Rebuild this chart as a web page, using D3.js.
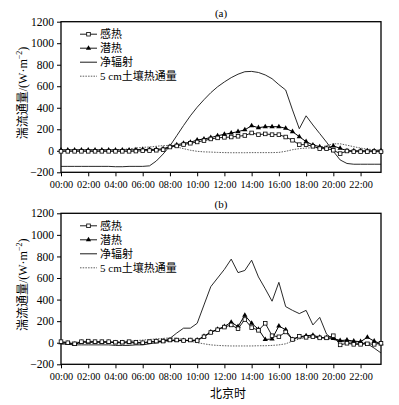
<!DOCTYPE html>
<html><head><meta charset="utf-8">
<script src="https://cdn.jsdelivr.net/npm/d3@7"></script>
<style>
html,body{margin:0;padding:0;background:#fff;}
svg{display:block;}
text{font-family:"Liberation Serif","Times New Roman","DejaVu Serif",serif;fill:#000;}
text.cjk, tspan.cjk{font-family:"Noto Sans CJK SC","Noto Sans",sans-serif;}
</style></head>
<body><svg id="c" width="399" height="405"></svg>
<script>
const hours = [0,0.5,1,1.5,2,2.5,3,3.5,4,4.5,5,5.5,6,6.5,7,7.5,8,8.5,9,9.5,10,10.5,11,11.5,12,12.5,13,13.5,14,14.5,15,15.5,16,16.5,17,17.5,18,18.5,19,19.5,20,20.5,21,21.5,22,22.5,23,23.5];
const xTickHours = [0,2,4,6,8,10,12,14,16,18,20,22];
const xTickLabels = ["00:00","02:00","04:00","06:00","08:00","10:00","12:00","14:00","16:00","18:00","20:00","22:00"];
const yTicks = [-200,0,200,400,600,800,1000,1200];
const seriesNames = ["感热","潜热","净辐射","5 cm土壤热通量"];
const panelTitles = ["(a)","(b)"];

// Panel (a)
const sensA = [-5,-5,-5,-5,-5,-5,-5,-5,-5,-5,-5,-3,0,2,5,10,35,45,58,70,82,95,110,120,125,128,135,142,166,150,157,150,150,128,98,57,57,42,20,20,5,-26,-2,-8,-8,-8,-8,-8];
const latA = [8,8,8,8,8,8,8,8,8,8,8,10,12,12,14,18,40,55,70,79,100,110,122,140,153,165,178,195,233,215,224,224,224,209,178,131,85,54,38,23,45,23,1,0,0,0,0,0];
const netA = [-145,-145,-145,-145,-145,-145,-145,-145,-148,-148,-145,-145,-145,-140,-95,-30,45,140,235,325,405,475,540,595,640,680,712,735,738,728,705,670,615,565,380,205,325,240,160,80,-5,-85,-118,-125,-125,-125,-125,-125];
const soilA = [8,8,8,8,8,8,8,8,10,12,18,25,32,35,42,48,48,35,20,5,-5,-10,-12,-15,-17,-18,-18,-18,-17,-17,-17,-17,-15,-5,10,20,25,28,30,48,65,65,52,38,25,15,10,5];

// Panel (b)
const sensB = [10,0,-10,10,15,10,10,10,5,5,10,5,0,10,15,15,25,25,20,25,20,55,95,120,145,165,130,215,140,115,180,65,55,100,30,60,50,55,45,45,65,-20,-5,-15,-15,-10,-15,-5];
const latB = [0,-5,-15,5,5,5,5,5,0,0,0,0,-5,5,10,15,20,20,20,20,25,60,100,125,150,190,150,255,180,125,30,35,155,120,30,55,65,70,50,45,40,20,25,15,10,50,15,-10];
const netB = [-10,-15,-20,-20,-20,-20,-20,-20,-25,-25,-25,-20,-20,-10,0,15,40,90,135,135,180,350,520,600,680,775,650,670,765,610,500,385,560,335,300,270,300,165,235,80,30,20,0,-5,-5,-10,-50,-95];
const soilB = [5,5,5,5,5,5,5,5,5,10,15,20,25,30,35,40,45,40,30,15,0,-10,-20,-25,-28,-30,-30,-30,-30,-28,-28,-25,-20,-10,15,35,50,55,50,40,30,20,15,10,5,0,-5,-10];

const svg = d3.select("#c");
const x = d3.scaleLinear().domain([0,23.5]).range([61,381]);
const SERIF = '"Liberation Serif","Times New Roman","DejaVu Serif",serif';

function panel(top, bottom, sens, lat, net, soil, title, showXLabel){
  const y = d3.scaleLinear().domain([-200,1200]).range([bottom, top]);
  const g = svg.append("g");
  g.append("text").attr("x",221).attr("y",top-5).attr("text-anchor","middle").attr("font-size",11).text(title);
  const ya = g.append("g").attr("transform","translate(61,0)")
    .call(d3.axisLeft(y).tickValues(yTicks).tickFormat(d3.format("d")).tickSize(4).tickSizeOuter(0).tickPadding(3));
  ya.attr("font-family",SERIF);
  ya.select(".domain").remove();
  ya.selectAll("text").style("font-family",SERIF).style("font-size","11.5px");
  ya.selectAll("line").attr("stroke","#000");
  const xa = g.append("g").attr("transform",`translate(0,${bottom})`)
    .call(d3.axisBottom(x).tickValues(xTickHours).tickFormat((d,i)=>xTickLabels[i]).tickSize(4).tickSizeOuter(0).tickPadding(4));
  xa.attr("font-family",SERIF);
  xa.select(".domain").remove();
  xa.selectAll("text").style("font-family",SERIF).style("font-size","10.3px");
  xa.selectAll("line").attr("stroke","#000");
  g.append("rect").attr("x",61).attr("y",top).attr("width",320).attr("height",bottom-top)
    .attr("fill","none").attr("stroke","#000").attr("stroke-width",1.3);
  const yl = g.append("text").attr("transform",`translate(27,${(top+bottom)/2-4}) rotate(-90)`)
    .attr("text-anchor","middle").attr("font-size",12);
  yl.append("tspan").attr("class","cjk").text("湍流通量");
  yl.append("tspan").text("/(W·m");
  yl.append("tspan").attr("font-size",8).attr("dy",-5).text("−2");
  yl.append("tspan").attr("dy",5).text(")");

  const line = d3.line().x((d,i)=>x(hours[i])).y(d=>y(d));
  g.append("path").datum(soil).attr("d",line).attr("fill","none").attr("stroke","#333").attr("stroke-width",0.8).attr("stroke-dasharray","1.5,1.2");
  g.append("path").datum(net).attr("d",line).attr("fill","none").attr("stroke","#111").attr("stroke-width",0.9);
  g.append("path").datum(lat).attr("d",line).attr("fill","none").attr("stroke","#000").attr("stroke-width",1);
  const tri = d3.symbol().type(d3.symbolTriangle).size(12);
  g.selectAll(".tri").data(lat).enter().append("path").attr("class","tri")
    .attr("transform",(d,i)=>`translate(${x(hours[i])},${y(d)})`).attr("d",tri).attr("fill","#000");
  g.append("path").datum(sens).attr("d",line).attr("fill","none").attr("stroke","#000").attr("stroke-width",0.9);
  g.selectAll(".sq").data(sens).enter().append("rect").attr("class","sq")
    .attr("x",(d,i)=>x(hours[i])-1.8).attr("y",d=>y(d)-1.8).attr("width",3.6).attr("height",3.6)
    .attr("fill","#fff").attr("stroke","#000").attr("stroke-width",0.8);

  const lx0 = 80, lx1 = 97, tx = 100;
  const rows = [top+12.5, top+26.5, top+40.5, top+54.5];
  rows.forEach((ry,i)=>{
    const ln = g.append("line").attr("x1",lx0).attr("x2",lx1).attr("y1",ry).attr("y2",ry).attr("stroke","#000").attr("stroke-width",0.9);
    if(i===0){
      g.append("rect").attr("x",88.5-1.8).attr("y",ry-1.8).attr("width",3.6).attr("height",3.6).attr("fill","#fff").attr("stroke","#000").attr("stroke-width",0.8);}
    if(i===1){ g.append("path").attr("transform",`translate(88.5,${ry})`).attr("d",tri).attr("fill","#000");}
    if(i===3){ ln.attr("stroke-width",0.8).attr("stroke","#333").attr("stroke-dasharray","1.5,1.2");}
    const t = g.append("text").attr("x",tx).attr("y",ry+4).attr("font-size",11);
    if(i===3){
      t.append("tspan").text("5 cm");
      t.append("tspan").attr("class","cjk").text("土壤热通量");
    } else {
      t.attr("class","cjk").text(seriesNames[i]);
    }
  });
  if(showXLabel){
    g.append("text").attr("class","cjk").attr("x",228).attr("y",398).attr("text-anchor","middle").attr("font-size",12).text("北京时");
  }
}

panel(21.7, 172.3, sensA, latA, netA, soilA, panelTitles[0], false);
panel(213.3, 364.3, sensB, latB, netB, soilB, panelTitles[1], true);
</script></body></html>
